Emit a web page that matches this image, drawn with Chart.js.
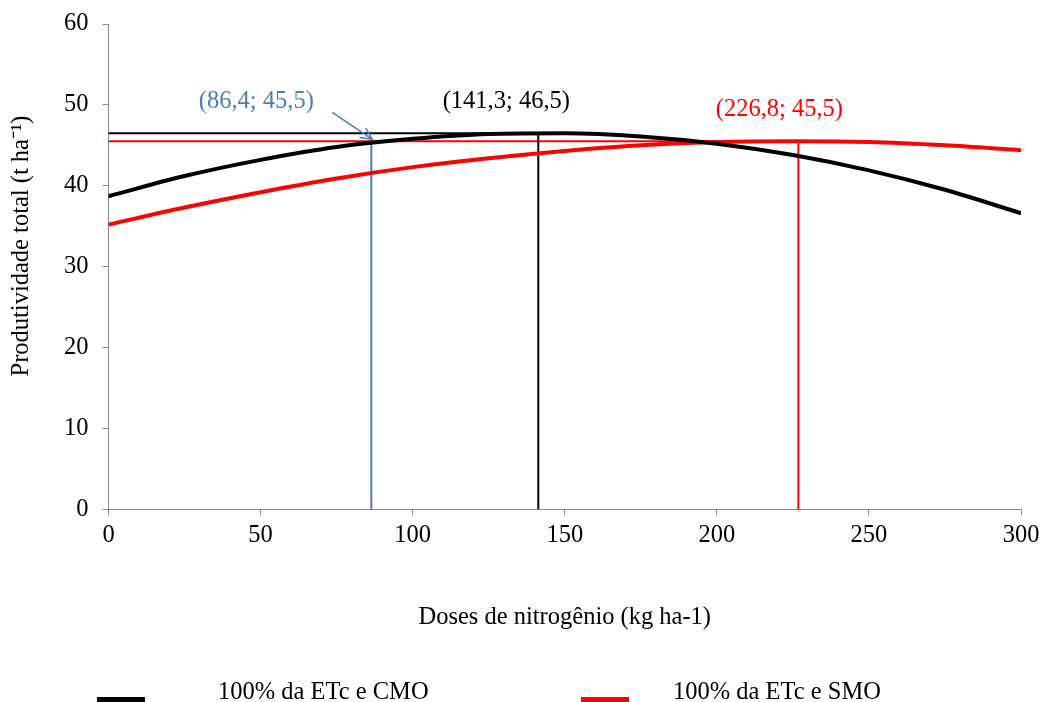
<!DOCTYPE html>
<html>
<head>
<meta charset="utf-8">
<script src="https://cdn.jsdelivr.net/npm/chart.js@4/dist/chart.umd.min.js"></script>
<style>
  html, body { margin: 0; padding: 0; background: #fff; }
  #wrap { width: 1042px; height: 702px; position: relative; }
</style>
</head>
<body>
<div id="wrap"><canvas id="chart"></canvas></div>
<script>
// Doses de N (kg ha-1) e produtividade
const doses = [0, 25, 50, 75, 100, 125, 150, 175, 200, 225, 250, 275, 300];
const prodCMO = [38.7, 41.2, 43.2, 44.8, 45.8, 46.4, 46.5, 46.1, 45.2, 43.8, 41.9, 39.5, 36.6];
const prodSMO = [35.2, 37.3, 39.2, 40.9, 42.3, 43.4, 44.3, 45.0, 45.4, 45.5, 45.4, 45.0, 44.4];

// Pontos de máximo (x; y) anotados no gráfico
const optDose = [86.4, 141.3, 226.8];
const optProd = [45.5, 46.5, 45.5];
const optLabels = ['(86,4; 45,5)', '(141,3; 46,5)', '(226,8; 45,5)'];

const seriesNames = ['100% da ETc e CMO', '100% da ETc e SMO'];
const xTicks = [0, 50, 100, 150, 200, 250, 300];
const yTicks = [0, 10, 20, 30, 40, 50, 60];
const yTitle = 'Produtividade total (t ha⁻¹)';

const FONT = 'Liberation Serif, Times New Roman, serif';
const FS = 24.5;
const BLUE = '#4a7ebb';
const AXIS = '#868686';

const pts = (xs, ys) => xs.map((x, i) => ({ x: x, y: ys[i] }));

// linhas de referência (horizontais e verticais) até os pontos de máximo
function refLine(x0, y0, x1, y1, color) {
    return {
        data: [{ x: x0, y: y0 }, { x: x1, y: y1 }],
        borderColor: color,
        borderWidth: 2,
        pointRadius: 0,
        tension: 0,
        order: 2
    };
}

const datasets = [
    {
        label: seriesNames[0],
        data: pts(doses, prodCMO),
        borderColor: '#000',
        borderWidth: 4,
        pointRadius: 0,
        cubicInterpolationMode: 'monotone',
        order: 1
    },
    {
        label: seriesNames[1],
        data: pts(doses, prodSMO),
        borderColor: '#ff0000',
        borderWidth: 4,
        pointRadius: 0,
        cubicInterpolationMode: 'monotone',
        order: 1
    },
    refLine(0, optProd[1], optDose[1], optProd[1], '#000'),
    refLine(optDose[1], 0, optDose[1], optProd[1], '#000'),
    refLine(0, optProd[2], optDose[2], optProd[2], '#ff0000'),
    refLine(optDose[2], 0, optDose[2], optProd[2], '#ff0000'),
    refLine(optDose[0], 0, optDose[0], optProd[0], BLUE)
];

// rótulos, seta, título do eixo y e legenda desenhados por cima
const extras = {
    id: 'extras',
    afterDatasetsDraw(chart) {
        const { ctx, scales: { x, y } } = chart;
        ctx.save();
        ctx.font = FS + 'px ' + FONT;
        ctx.textAlign = 'center';
        ctx.textBaseline = 'middle';

        const colors = [BLUE, '#000', '#ff0000'];
        const offs = [[-115, -40], [-32, -32], [-19, -32]];
        optLabels.forEach((txt, i) => {
            ctx.fillStyle = colors[i];
            ctx.fillText(txt, x.getPixelForValue(optDose[i]) + offs[i][0],
                y.getPixelForValue(optProd[i]) + offs[i][1]);
        });

        // seta azul
        const tx = x.getPixelForValue(optDose[0]) + 1;
        const ty = y.getPixelForValue(optProd[0]) - 2;
        const sx = tx - 40, sy = ty - 27;
        const ang = Math.atan2(ty - sy, tx - sx);
        ctx.strokeStyle = BLUE;
        ctx.lineWidth = 1.5;
        ctx.beginPath();
        ctx.moveTo(sx, sy);
        ctx.lineTo(tx, ty);
        ctx.moveTo(tx - 13 * Math.cos(ang - 0.45), ty - 13 * Math.sin(ang - 0.45));
        ctx.lineTo(tx, ty);
        ctx.lineTo(tx - 13 * Math.cos(ang + 0.45), ty - 13 * Math.sin(ang + 0.45));
        ctx.stroke();

        // título do eixo y
        ctx.save();
        ctx.translate(22, 246);
        ctx.rotate(-Math.PI / 2);
        ctx.fillStyle = '#000';
        ctx.fillText(yTitle, 0, 0);
        ctx.restore();

        // legenda
        ctx.textAlign = 'left';
        ctx.textBaseline = 'alphabetic';
        const legX = [97, 581];
        const legT = [218, 673];
        const legC = ['#000', '#ff0000'];
        seriesNames.forEach((name, i) => {
            ctx.fillStyle = legC[i];
            ctx.fillRect(legX[i], 697, 48, 6);
            ctx.fillStyle = '#000';
            ctx.fillText(name, legT[i], 699);
        });
        ctx.restore();
    }
};

new Chart(document.getElementById('chart'), {
    type: 'line',
    data: { datasets: datasets },
    options: {
        responsive: true,
        maintainAspectRatio: false,
        animation: false,
        layout: { padding: { top: 0, right: 0, bottom: 70, left: 50 } },
        plugins: {
            legend: { display: false },
            tooltip: { enabled: false }
        },
        scales: {
            x: {
                type: 'linear',
                min: 0,
                max: 300,
                afterBuildTicks: (s) => { s.ticks = xTicks.map(v => ({ value: v })); },
                afterFit: (s) => { s.paddingRight = 21; },
                grid: { drawOnChartArea: false, color: AXIS, tickLength: 6 },
                border: { color: AXIS, width: 1 },
                ticks: { color: '#000', font: { family: FONT, size: FS }, padding: 6, maxRotation: 0 },
                title: {
                    display: true,
                    text: 'Doses de nitrogênio (kg ha-1)',
                    color: '#000',
                    font: { family: FONT, size: FS },
                    padding: { top: 46, bottom: 0 }
                }
            },
            y: {
                min: 0,
                max: 60,
                afterBuildTicks: (s) => { s.ticks = yTicks.map(v => ({ value: v })); },
                afterFit: (s) => { s.paddingTop = 24; },
                grid: { drawOnChartArea: false, color: AXIS, tickLength: 6 },
                border: { color: AXIS, width: 1 },
                ticks: { color: '#000', font: { family: FONT, size: FS }, padding: 14 }
            }
        }
    },
    plugins: [extras]
});
</script>
</body>
</html>
